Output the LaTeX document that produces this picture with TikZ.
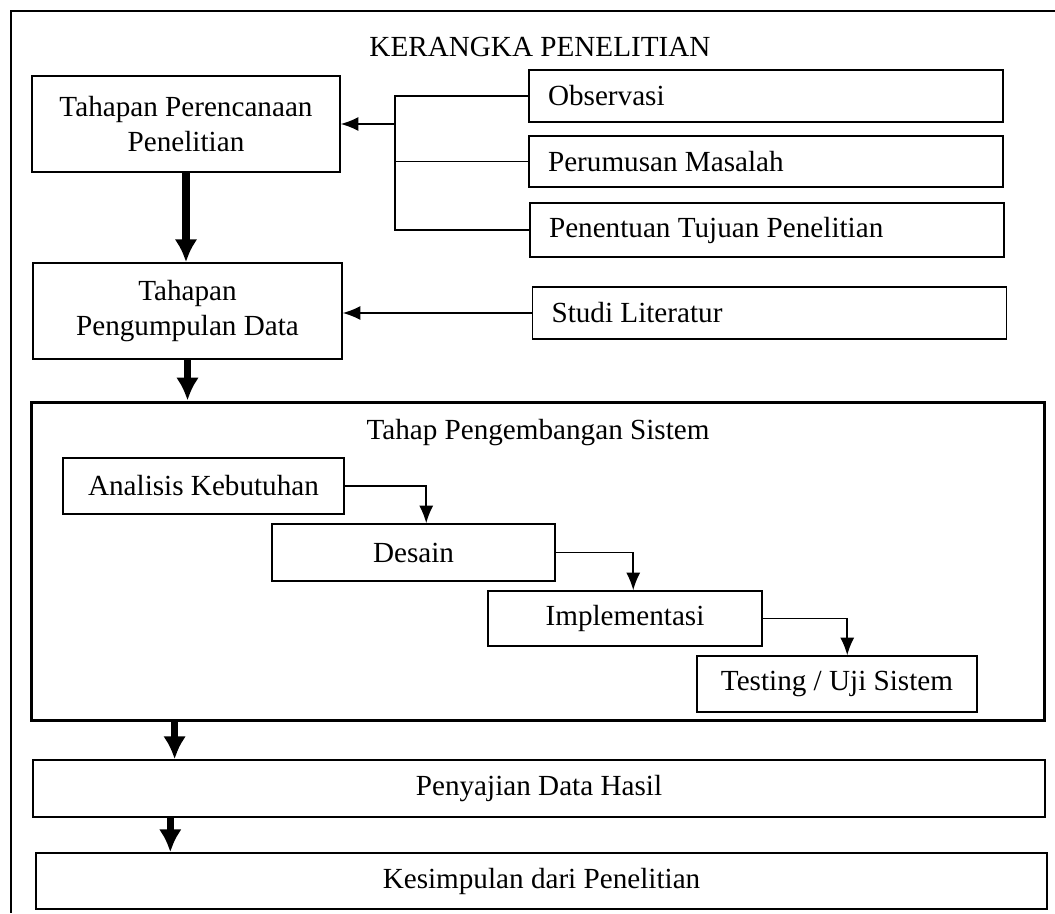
\documentclass[tikz,border=0pt]{standalone}
\usepackage{fontspec}
\setmainfont{Liberation Serif}
\usetikzlibrary{arrows.meta,calc}

\begin{document}
\begin{tikzpicture}[x=0.02cm,y=-0.02cm,
  font=\fontsize{16.6}{20}\selectfont,
  box/.style={draw,line width=0.9pt,inner sep=0pt,align=center},
  sidebox/.style={draw,line width=0.9pt,inner sep=0pt,inner xsep=0.38cm,text width=8.72cm,align=flush left,minimum height=1.04cm},
  thin/.style={line width=0.9pt,-{Latex[length=10pt,width=8pt]}},
  thick/.style={line width=4pt,-{Latex[length=13pt,width=13pt]}}]

\useasboundingbox (0,0) rectangle (1055,913);
\draw [line width=1.7pt] (1055,11) -- (11,11) -- (11,913);

\node (title) at (540,47) {KERANGKA PENELITIAN};

\node [box,minimum width=6.16cm,minimum height=1.92cm] (plan) at (186,124) {Tahapan Perencanaan\\Penelitian};
\node [box,minimum width=6.18cm,minimum height=1.92cm] (collect) at (187.5,311) {Tahapan\\Pengumpulan Data};

\node [sidebox] (obs) at (766,96) {Observasi};
\node [sidebox,minimum height=1.02cm] (rumus) at (766,161.5) {Perumusan Masalah};
\node [sidebox,minimum height=1.08cm] (tujuan) at (767,230) {Penentuan Tujuan Penelitian};
\node [sidebox] (studi) at (769.5,313) {Studi Literatur};

\coordinate (br) at (395,124);
\draw [line width=0.9pt] (obs.west) -| (br |- tujuan.west) -- (tujuan.west);
\draw [line width=0.9pt] (rumus.west) -- (rumus.west -| br);
\draw [thin] (br) -- (plan.east);
\draw [thin] (studi.west) -- (studi.west -| collect.east);

\draw [thick] (plan.south) -- (plan.south |- collect.north);

% tahap pengembangan
\node [box,line width=1.7pt,minimum width=20.28cm,minimum height=6.38cm] (dev) at (538,561.5) {};
\node (devtitle) at (538,433) {Tahap Pengembangan Sistem};
\draw [thick] (collect.south) -- (collect.south |- dev.north);

\node [box,minimum width=5.62cm,minimum height=1.12cm] (ana) at (203.5,486) {Analisis Kebutuhan};
\node [box,minimum width=5.66cm,minimum height=1.14cm] (desain) at (413.5,552.5) {Desain};
\node [box,minimum width=5.48cm,minimum height=1.1cm] (impl) at (625,618.5) {Implementasi};
\node [box,minimum width=5.6cm,minimum height=1.12cm] (test) at (837,684) {Testing / Uji Sistem};

\coordinate (k1) at ($(desain.north west)+(155,0)$);
\coordinate (k2) at ($(impl.north west)+(146,0)$);
\coordinate (k3) at ($(test.north west)+(151,0)$);
\draw [thin] (ana.east) -| (k1);
\draw [thin] (desain.east) -| (k2);
\draw [thin] (impl.east) -| (k3);

\node [box,minimum width=20.24cm,minimum height=1.14cm] (hasil) at (539,788.5) {Penyajian Data Hasil};
\node [box,minimum width=20.22cm,minimum height=1.12cm] (simpul) at (541.5,881) {Kesimpulan dari Penelitian};

\coordinate (d1) at ($(dev.south west)+(145,0)$);
\coordinate (h1) at ($(hasil.south west)+(138,0)$);
\draw [thick] (d1) -- (d1 |- hasil.north);
\draw [thick] (h1) -- (h1 |- simpul.north);
\end{tikzpicture}
\end{document}
